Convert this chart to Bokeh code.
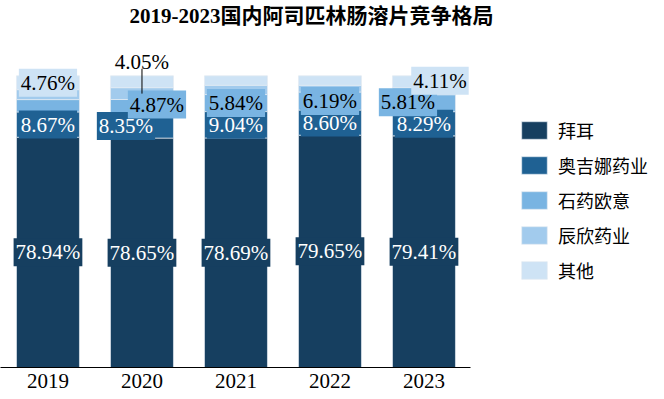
from bokeh.plotting import figure
from bokeh.models import (ColumnDataSource, Range1d, Legend, LegendItem,
                          Label, FixedTicker)
from bokeh.core.properties import value
from bokeh.embed import file_html
from bokeh.resources import INLINE

# ---- data ----
years = ["2019", "2020", "2021", "2022", "2023"]
series_names = ["拜耳", "奥吉娜药业", "石药欧意", "辰欣药业", "其他"]
bayer = [78.94, 78.65, 78.69, 79.65, 79.41]
aojina = [8.67, 8.35, 9.04, 8.60, 8.29]
shiyao = [4.23, 4.87, 5.84, 6.19, 5.81]
chenxin = [3.40, 4.05, 3.20, 2.30, 2.38]
others = [4.76, 4.08, 3.23, 3.26, 4.11]
title_text = "2019-2023国内阿司匹林肠溶片竞争格局"

colors = ["#163f60", "#1f6193", "#79b4e2", "#a2cbed", "#cee3f5"]
text_colors = ["white", "white", "black", "black", "black"]
keys = ["s0", "s1", "s2", "s3", "s4"]
values_all = [bayer, aojina, shiyao, chenxin, others]

xs = list(range(len(years)))
data = {"x": xs}
for k, v in zip(keys, values_all):
    data[k] = v
src = ColumnDataSource(data)

SERIF = "Liberation Serif"
CJK = "Noto Sans CJK SC"

W, H = 660, 399
FH = 367            # frame height in px
PXU = 94            # px per category
PXP = 2.917         # px per percent
X0 = -0.505

p = figure(width=W, height=H, output_backend="svg", toolbar_location=None,
           x_range=Range1d(X0, X0 + W / PXU), y_range=Range1d(0, FH / PXP),
           y_axis_location=None, min_border_left=0, min_border_right=0,
           min_border_top=0, min_border_bottom=H - FH, outline_line_color=None)
p.grid.visible = False

rs = p.vbar_stack(keys, x="x", width=0.67, source=src, color=colors,
                  line_color="#e4ebf2", line_width=0.7)

# axis
ax = p.xaxis[0]
ax.ticker = FixedTicker(ticks=xs)
ax.major_label_overrides = {i: y for i, y in zip(xs, years)}
ax.bounds = (X0, 4.5)
ax.axis_line_color = "black"
ax.axis_line_width = 1
ax.major_tick_line_color = None
ax.minor_tick_line_color = None
ax.major_tick_out = 0
ax.major_label_standoff = 6
ax.major_label_text_font = SERIF
ax.major_label_text_font_size = "21px"
ax.major_label_text_color = "black"

# ---- data labels ----
# (series index, year index, x offset px, y offset px)
shown = [(0, i, 0, 0) for i in range(5)] + [(1, 0, 0, 0), (1, 1, -16, 0), (1, 2, 0, 0), (1, 3, 0, 0), (1, 4, 0, 0)] + \
        [(2, 1, 15, 2), (2, 2, 0, 0), (2, 3, 0, 0), (2, 4, -16, 1), (4, 0, 0, 0), (4, 4, 16, 1)]
lx, ly, lt, lc, lb, lxo, lyo = [], [], [], [], [], [], []
for s, i, xo, yo in shown:
    below = sum(values_all[k][i] for k in range(s))
    v = values_all[s][i]
    lx.append(xs[i]); ly.append(below + v / 2)
    lt.append(f"{v:.2f}%"); lc.append(text_colors[s]); lb.append(colors[s])
    lxo.append(xo); lyo.append(-yo)
lsrc = ColumnDataSource(dict(x=lx, y=ly, t=lt, c=lc, b=lb, xo=lxo, yo=lyo))
p.text(x="x", y="y", text="t", source=lsrc, text_color="c",
       background_fill_color="b", x_offset="xo", y_offset="yo",
       text_align="center", text_baseline="middle",
       text_font=value(SERIF), text_font_size="21px", padding=2)

# callout label for 辰欣药业 2020
ci = 1
total = sum(values_all[k][ci] for k in range(5))
mid = sum(values_all[k][ci] for k in range(3)) + chenxin[ci] / 2
p.segment(x0=[xs[ci]], y0=[mid], x1=[xs[ci]], y1=[total + 2.4], line_color="black", line_width=1)
p.add_layout(Label(x=xs[ci], y=total, y_offset=14, text=f"{chenxin[ci]:.2f}%",
                   text_align="center", text_baseline="middle", text_font=SERIF,
                   text_font_size="21px", text_color="black"))

# title
p.add_layout(Label(x=X0 + 311 / PXU, y=(FH - 15) / PXP, text=title_text,
                   text_align="center", text_baseline="middle",
                   text_font=f"{SERIF}, {CJK}", text_font_style="bold",
                   text_font_size="21px", text_color="black"))

# legend
items = [LegendItem(label=n, renderers=[r]) for n, r in zip(series_names, rs)]
legend = Legend(items=items, location=(518, 84), orientation="vertical",
                glyph_width=32, glyph_height=22, label_height=22, spacing=9,
                label_standoff=8, padding=0, margin=0, border_line_color=None,
                background_fill_alpha=0, label_text_font=CJK, label_text_font_size="18px",
                label_text_color="black", label_text_baseline="middle")
p.add_layout(legend)

open("out.html", "w").write(file_html(p, INLINE))
